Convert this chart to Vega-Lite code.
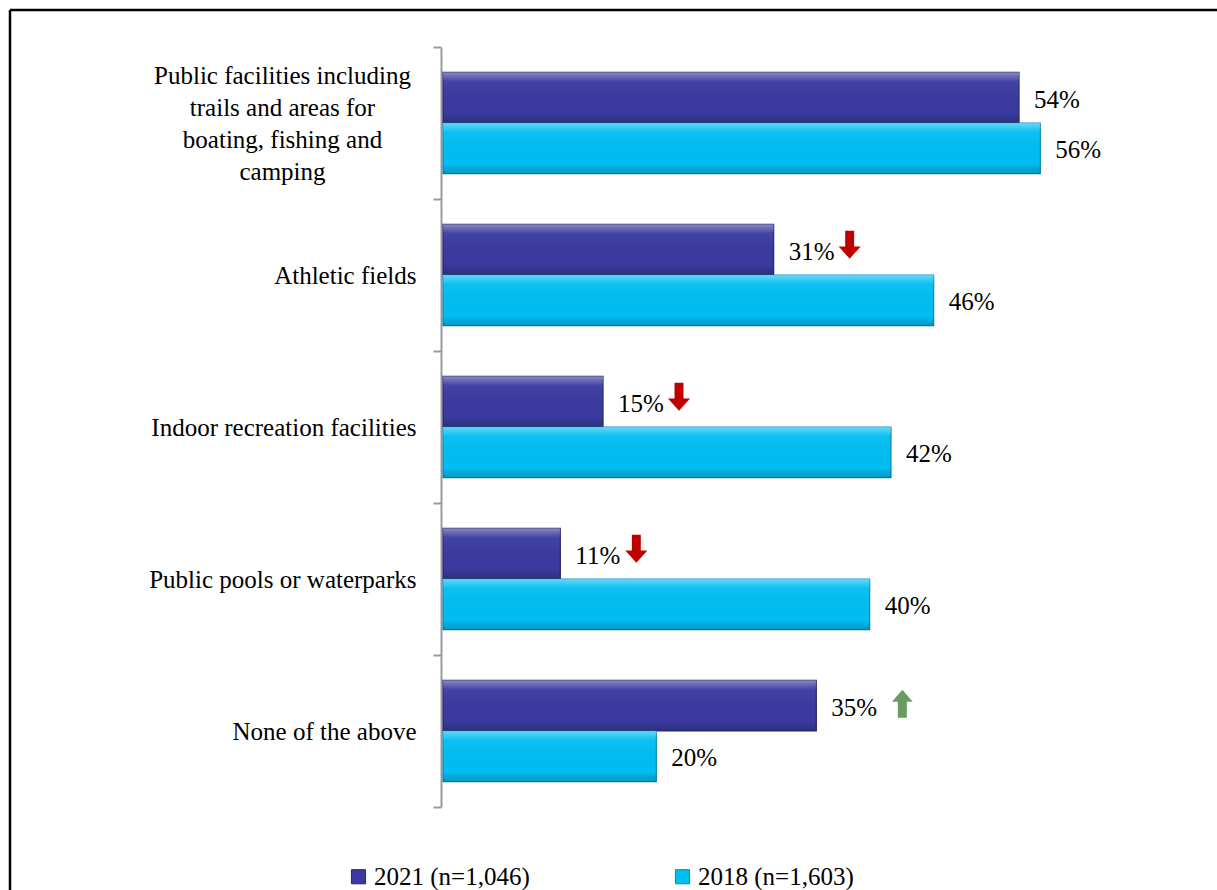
{
  "$schema": "https://vega.github.io/schema/vega-lite/v6.json",
  "width": 1207,
  "height": 880,
  "padding": {"left": 10, "top": 10, "right": 0, "bottom": 0},
  "autosize": {"type": "none"},
  "background": "white",
  "config": {
    "view": {"stroke": "black", "strokeWidth": 2.5, "strokeDash": [1207, 2087, 880, 0]},
    "font": "Liberation Serif"
  },
  "data": {
    "values": [
      {"category": "Public facilities including|trails and areas for|boating, fishing and|camping", "series": "2021 (n=1,046)", "value": 54, "trend": null},
      {"category": "Public facilities including|trails and areas for|boating, fishing and|camping", "series": "2018 (n=1,603)", "value": 56, "trend": null},
      {"category": "Athletic fields", "series": "2021 (n=1,046)", "value": 31, "trend": "down"},
      {"category": "Athletic fields", "series": "2018 (n=1,603)", "value": 46, "trend": null},
      {"category": "Indoor recreation facilities", "series": "2021 (n=1,046)", "value": 15, "trend": "down"},
      {"category": "Indoor recreation facilities", "series": "2018 (n=1,603)", "value": 42, "trend": null},
      {"category": "Public pools or waterparks", "series": "2021 (n=1,046)", "value": 11, "trend": "down"},
      {"category": "Public pools or waterparks", "series": "2018 (n=1,603)", "value": 40, "trend": null},
      {"category": "None of the above", "series": "2021 (n=1,046)", "value": 35, "trend": "up"},
      {"category": "None of the above", "series": "2018 (n=1,603)", "value": 20, "trend": null}
    ]
  },
  "encoding": {
    "y": {
      "field": "category",
      "type": "nominal",
      "sort": null,
      "scale": {"range": [37, 797], "paddingInner": 0, "paddingOuter": 0},
      "axis": {
        "title": null,
        "orient": "left",
        "offset": -431,
        "domainColor": "#9a9a9a",
        "domainWidth": 2,
        "tickColor": "#9a9a9a",
        "tickWidth": 2,
        "tickSize": 8,
        "tickBand": "extent",
        "labelFont": "Liberation Serif",
        "labelFontSize": 25,
        "labelColor": "black",
        "labelLimit": 0,
        "labelLineHeight": 32,
        "labelExpr": "split(datum.label, '|')",
        "labelAlign": {"condition": {"test": "indexof(datum.label, '|') >= 0", "value": "center"}, "value": "right"},
        "labelPadding": {"condition": {"test": "indexof(datum.label, '|') >= 0", "value": 151}, "value": 17},
        "labelOffset": {"condition": {"test": "indexof(datum.label, '|') >= 0", "value": -48}, "value": 0}
      }
    },
    "yOffset": {
      "field": "series",
      "type": "nominal",
      "sort": ["2021 (n=1,046)", "2018 (n=1,603)"],
      "scale": {"paddingInner": 0, "paddingOuter": 0.5}
    },
    "x": {
      "field": "value",
      "type": "quantitative",
      "scale": {"domain": [0, 60], "range": [433, 1073]},
      "axis": null
    }
  },
  "layer": [
    {
      "mark": {"type": "bar", "strokeWidth": 1.2},
      "encoding": {
        "color": {
          "field": "series",
          "type": "nominal",
          "sort": ["2021 (n=1,046)", "2018 (n=1,603)"],
          "scale": {"domain": ["2021 (n=1,046)", "2018 (n=1,603)"], "range": ["#3a3aa0", "#00bdf2"]},
          "legend": {
            "title": null,
            "orient": "none",
            "legendX": 336,
            "legendY": 854,
            "direction": "horizontal",
            "symbolType": "square",
            "symbolSize": 200,
            "symbolStrokeWidth": 1,
            "symbolOffset": 0,
            "labelOffset": 3,
            "labelFont": "Liberation Serif",
            "labelFontSize": 25,
            "labelColor": "black",
            "labelLimit": 0,
            "columnPadding": 140
          }
        },
        "stroke": {
          "field": "series",
          "type": "nominal",
          "scale": {"domain": ["2021 (n=1,046)", "2018 (n=1,603)"], "range": ["#26266e", "#1688b0"]},
          "legend": null
        }
      }
    },
    {
      "mark": {
        "type": "bar",
        "fill": {
          "gradient": "linear", "x1": 0, "y1": 0, "x2": 0, "y2": 1,
          "stops": [
            {"offset": 0, "color": "rgba(255,255,255,0.4)"},
            {"offset": 0.18, "color": "rgba(255,255,255,0.05)"},
            {"offset": 0.8, "color": "rgba(0,0,0,0)"},
            {"offset": 1, "color": "rgba(0,0,0,0.2)"}
          ]
        }
      },
      "encoding": {}
    },
    {
      "transform": [{"calculate": "datum.value + '%'", "as": "label"}],
      "mark": {"type": "text", "align": "left", "baseline": "middle", "dx": 15, "dy": 2, "fontSize": 25, "font": "Liberation Serif", "color": "black"},
      "encoding": {
        "text": {"field": "label", "type": "nominal"}
      }
    },
    {
      "transform": [{"filter": "datum.trend === 'down'"}],
      "mark": {
        "type": "point", "filled": true, "opacity": 1, "size": 784, "xOffset": 76,
        "color": "#c00000",
        "shape": "M-0.32,-1.36L0.32,-1.36L0.32,-0.22L0.79,-0.22L0,0.64L-0.79,-0.22L-0.32,-0.22Z"
      },
      "encoding": {}
    },
    {
      "transform": [{"filter": "datum.trend === 'up'"}],
      "mark": {
        "type": "point", "filled": true, "opacity": 1, "size": 784, "xOffset": 86,
        "color": "#6a9c62",
        "shape": "M-0.32,0.86L0.32,0.86L0.32,-0.28L0.74,-0.28L0,-1.14L-0.74,-0.28L-0.32,-0.28Z"
      },
      "encoding": {}
    }
  ]
}
